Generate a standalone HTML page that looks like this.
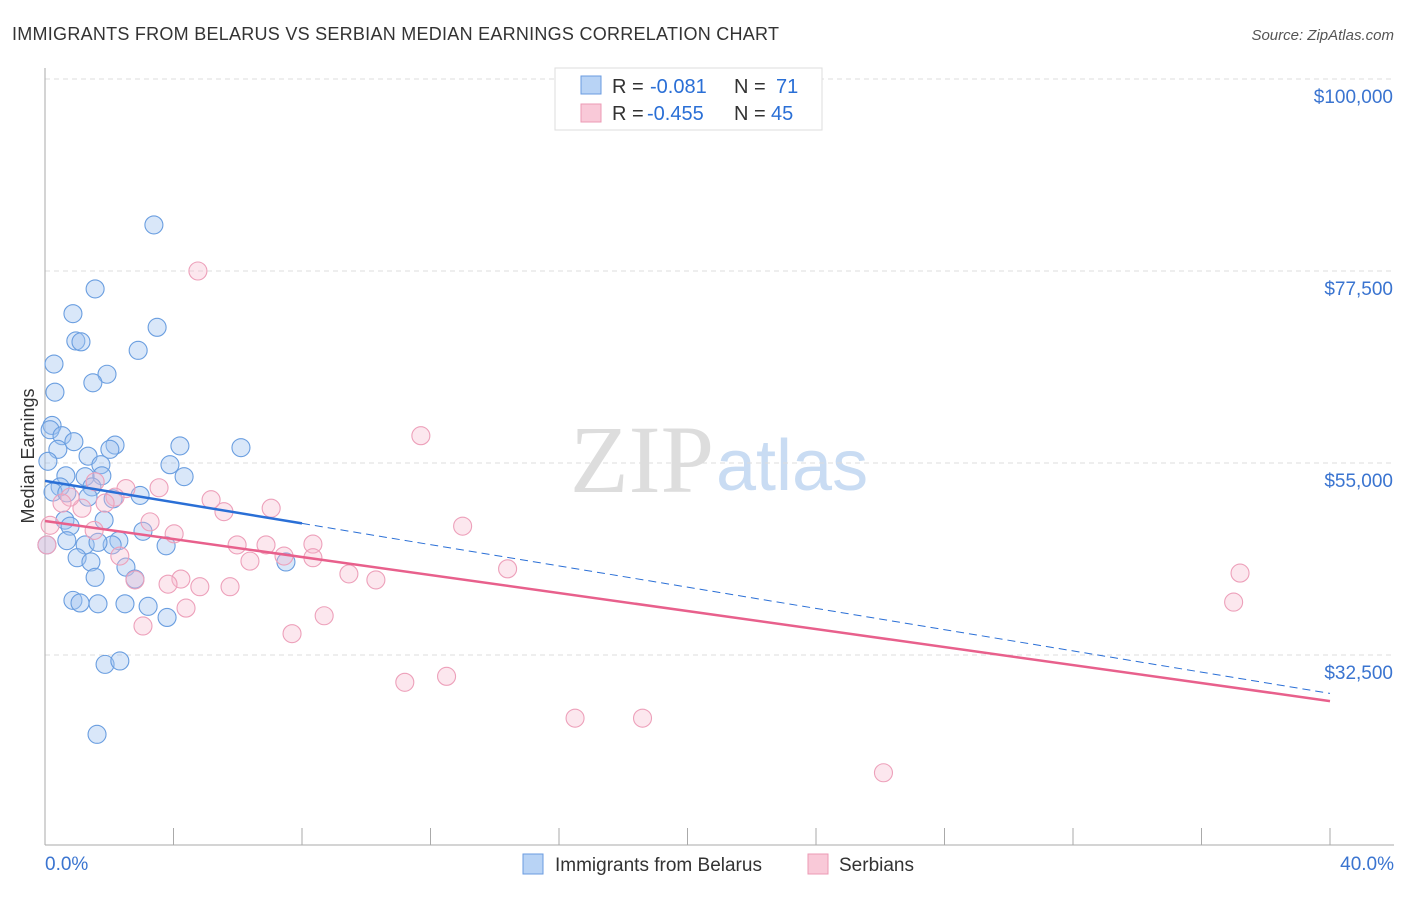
<!DOCTYPE html>
<html><head><meta charset="utf-8"><style>
body{margin:0;background:#fff;font-family:"Liberation Sans",sans-serif;}
svg text{font-family:"Liberation Sans",sans-serif;}
</style></head><body>
<svg id="chart" width="1406" height="892">
<text x="12" y="40" font-size="18" fill="#333" textLength="767">IMMIGRANTS FROM BELARUS VS SERBIAN MEDIAN EARNINGS CORRELATION CHART</text>
<text x="1394" y="40" font-size="15" fill="#555" font-style="italic" text-anchor="end">Source: ZipAtlas.com</text>
<text x="714" y="492" font-size="96" fill="#ddd" text-anchor="end" style="font-family:'Liberation Serif',serif">ZIP</text>
<text x="716" y="490" font-size="72" fill="#c9dcf3">atlas</text>
<g id="grid"></g><g id="axes"></g><g id="pts"></g><g id="trend"></g>
<text transform="translate(34,456) rotate(-90)" font-size="18" fill="#333" text-anchor="middle">Median Earnings</text>
<g>
<rect x="555" y="68" width="267" height="62" fill="#fff" stroke="#ddd"/>
<rect x="581" y="76" width="20" height="18" fill="#b8d3f5" stroke="#6a9be0"/>
<rect x="581" y="104" width="20" height="18" fill="#f9c9d8" stroke="#ec9ab4"/>
<text x="612" y="93" font-size="20" fill="#333">R =</text>
<text x="650" y="93" font-size="20" fill="#2a6fd6">-0.081</text>
<text x="734" y="93" font-size="20" fill="#333">N =</text>
<text x="776" y="93" font-size="20" fill="#2a6fd6">71</text>
<text x="612" y="120" font-size="20" fill="#333">R =</text>
<text x="647" y="120" font-size="20" fill="#2a6fd6">-0.455</text>
<text x="734" y="120" font-size="20" fill="#333">N =</text>
<text x="771" y="120" font-size="20" fill="#2a6fd6">45</text>
</g>
<g>
<rect x="523" y="854" width="20" height="20" fill="#b8d3f5" stroke="#6a9be0"/>
<text x="555" y="871" font-size="19" fill="#333">Immigrants from Belarus</text>
<rect x="808" y="854" width="20" height="20" fill="#f9c9d8" stroke="#ec9ab4"/>
<text x="839" y="871" font-size="19" fill="#333">Serbians</text>
</g>
</svg>
<script>
const yTicks=[100000,77500,55000,32500];
const yTickLabels=["$100,000","$77,500","$55,000","$32,500"];
const xTickLabels=["0.0%","40.0%"];
const blueX=[3.39,1.56,0.87,3.49,0.96,1.12,2.90,0.28,1.93,1.49,0.31,0.22,0.16,0.53,0.90,2.18,2.02,4.20,6.10,0.40,1.34,0.09,3.89,1.74,0.65,1.25,1.77,4.33,0.47,1.46,0.25,0.68,2.12,2.96,1.34,0.62,1.84,0.78,3.05,2.30,0.68,0.06,1.25,2.09,3.77,1.65,1.00,1.43,2.52,7.50,1.56,2.80,0.87,1.09,1.65,2.49,3.21,3.80,1.87,2.33,1.62];
const blueY=[82.9,75.4,72.5,70.9,69.3,69.2,68.2,66.6,65.4,64.4,63.3,59.4,58.9,58.2,57.5,57.1,56.6,57.0,56.8,56.6,55.8,55.2,54.8,54.8,53.5,53.4,53.5,53.4,52.2,52.2,51.6,51.5,50.8,51.2,51.0,48.3,48.3,47.6,47.0,45.9,45.9,45.4,45.4,45.4,45.3,45.7,43.9,43.4,42.8,43.4,41.6,41.4,38.9,38.6,38.5,38.5,38.2,36.9,31.4,31.8,23.2];
const pinkX=[4.76,11.7,13.0,14.4,37.2,37.0,26.1,18.6,16.5,12.5,11.2,10.3,9.46,8.69,8.34,8.34,7.69,7.44,6.88,7.04,6.38,5.98,5.76,5.57,5.17,4.82,4.39,4.23,4.02,3.83,3.55,3.27,3.05,2.80,2.52,2.33,2.18,1.87,1.53,1.15,0.78,0.53,0.16,0.06,1.56];
const pinkY=[77.5,58.2,47.6,42.6,42.1,38.7,18.7,25.1,25.1,30.0,29.3,41.3,42.0,37.1,45.5,43.9,35.0,44.1,45.4,49.7,43.5,45.4,40.5,49.3,50.7,40.5,38.0,41.4,46.7,40.8,52.1,48.1,35.9,41.3,52.0,44.1,51.0,50.3,47.1,49.7,51.0,50.3,47.7,45.4,52.8];
const blueTrend=[52.9,28.0];
const pinkTrend=[48.2,27.1];
const NS="http://www.w3.org/2000/svg";
const sx=p=>45+p/40*1285;
const sy=v=>79+(100-v)*192/22.5;
function mk(t,a,parent){const e=document.createElementNS(NS,t);for(const k in a)e.setAttribute(k,a[k]);document.getElementById(parent).appendChild(e);return e;}
yTicks.forEach((t,i)=>{
 const g=mk('line',{x1:45,x2:1394,y1:sy(t/1000),y2:sy(t/1000),stroke:'#ddd','stroke-dasharray':'5,4'},'grid');
 
 
 const l=mk('text',{x:1393,y:sy(t/1000)+24,'font-size':19,fill:'#3a74d0','text-anchor':'end'},'grid');
 l.textContent=yTickLabels[i];
 
 
});
const ya=mk('line',{x1:45,x2:45,y1:68,y2:845,stroke:'#aaa'},'axes');


const xa=mk('line',{x1:45,x2:1394,y1:845,y2:845,stroke:'#aaa'},'axes');


for(let i=1;i<=10;i++){const t=mk('line',{x1:sx(i*4),x2:sx(i*4),y1:828,y2:845,stroke:'#aaa'},'axes');
 
 }
[[0,'start',45],[40,'end',1394]].forEach((d,i)=>{const t=mk('text',{x:d[2],y:870,'font-size':19,fill:'#3a74d0','text-anchor':d[1]},'axes');t.textContent=xTickLabels[i];
 
 });
blueX.forEach((x,i)=>{const c=mk('circle',{cx:sx(x),cy:sy(blueY[i]),r:9,fill:'rgba(160,196,240,0.4)',stroke:'#6a9ee0','stroke-width':1.1},'pts');
 
 });
pinkX.forEach((x,i)=>{const c=mk('circle',{cx:sx(x),cy:sy(pinkY[i]),r:9,fill:'rgba(246,186,206,0.35)',stroke:'#eda0ba','stroke-width':1.1},'pts');
 
 });
const by=x=>blueTrend[0]+(blueTrend[1]-blueTrend[0])*x/40;
const t1=mk('line',{x1:sx(0),y1:sy(by(0)),x2:sx(8),y2:sy(by(8)),stroke:'#2a6fd6','stroke-width':2.5},'trend');


const t2=mk('line',{x1:sx(8),y1:sy(by(8)),x2:sx(40),y2:sy(by(40)),stroke:'#2a6fd6','stroke-width':1,'stroke-dasharray':'8,5'},'trend');


const t3=mk('line',{x1:sx(0),y1:sy(pinkTrend[0]),x2:sx(40),y2:sy(pinkTrend[1]),stroke:'#e8608c','stroke-width':2.5},'trend');


</script>
</body></html>
